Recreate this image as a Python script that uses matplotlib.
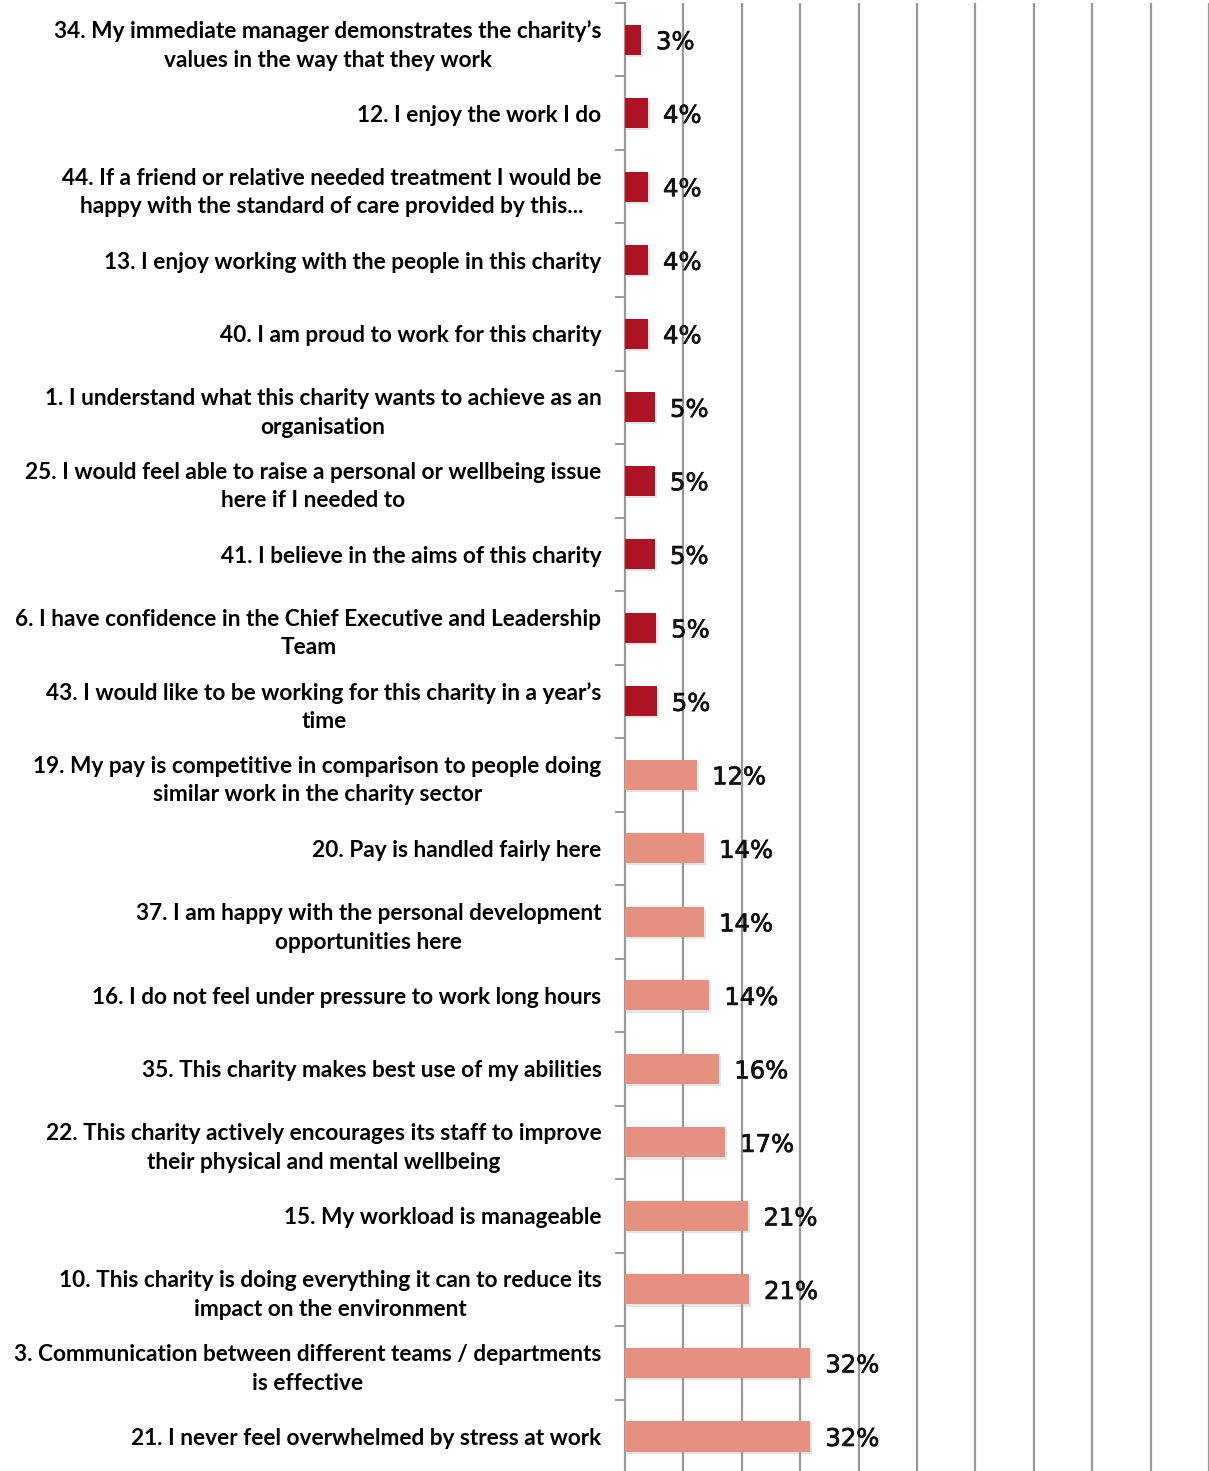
import matplotlib
matplotlib.use("Agg")
import matplotlib.pyplot as plt
import matplotlib.patheffects as pe
import numpy as np

# survey statements, top to bottom
questions = [
    "34. My immediate manager demonstrates the charity\u2019s\nvalues in the way that they work",
    "12. I enjoy the work I do",
    "44. If a friend or relative needed treatment I would be\nhappy with the standard of care provided by this...",
    "13. I enjoy working with the people in this charity",
    "40. I am proud to work for this charity",
    "1. I understand what this charity wants to achieve as an\norganisation",
    "25. I would feel able to raise a personal or wellbeing issue\nhere if I needed to",
    "41. I believe in the aims of this charity",
    "6. I have confidence in the Chief Executive and Leadership\nTeam",
    "43. I would like to be working for this charity in a year\u2019s\ntime",
    "19. My pay is competitive in comparison to people doing\nsimilar work in the charity sector",
    "20. Pay is handled fairly here",
    "37. I am happy with the personal development\nopportunities here",
    "16. I do not feel under pressure to work long hours",
    "35. This charity makes best use of my abilities",
    "22. This charity actively encourages its staff to improve\ntheir physical and mental wellbeing",
    "15. My workload is manageable",
    "10. This charity is doing everything it can to reduce its\nimpact on the environment",
    "3. Communication between different teams / departments\nis effective",
    "21. I never feel overwhelmed by stress at work",
]

# percent disagreeing
pct = [2.7, 3.9, 3.9, 3.9, 3.9, 5.1, 5.1, 5.1, 5.3, 5.4,
       12.3, 13.5, 13.5, 14.4, 16.1, 17.1, 21.1, 21.2, 31.7, 31.7]

# first ten are the low-disagreement group
group = ["low"] * 10 + ["high"] * 10
palette = {"low": "#AD1423", "high": "#E69080"}

fig = plt.figure(figsize=(12.09, 14.71), dpi=100)
ax = fig.add_axes([0.517, -0.0015, 0.483, 0.9995])

y = np.arange(len(questions))
bars = ax.barh(y, pct, height=0.41, color=[palette[g] for g in group], zorder=3)
for b in bars:
    b.set_path_effects([pe.SimplePatchShadow(offset=(1.5, -1.5), shadow_rgbFace="#999999", alpha=0.25),
                        pe.Normal()])

for yi, v in zip(y, pct):
    t = ax.text(v + 2.6, yi, f"{v:.0f}%", va="center_baseline", ha="left",
                fontsize=17.5, family="Liberation Sans Narrow",
                color="#111111", zorder=4)
    t.set_path_effects([pe.withStroke(linewidth=0.5, foreground="#111111")])

ax.set_xlim(0, 100)
ax.set_ylim(len(questions) - 0.5, -0.5)
ax.set_xticks(np.arange(10, 101, 10))
ax.xaxis.grid(True, color="#999999", linewidth=1.6, zorder=0)
ax.tick_params(axis="x", length=0, labelbottom=False)

ax.set_yticks(y)
ax.set_yticklabels(questions, fontsize=16.3, family="Lato", fontweight="bold",
                   ha="right", multialignment="center", linespacing=1.45)
ax.set_yticks(np.arange(-0.5, len(questions), 1), minor=True)
ax.tick_params(axis="y", which="major", length=0, pad=17)
ax.tick_params(axis="y", which="minor", length=7, width=1.4, color="#999999")

for s in ["top", "right", "bottom"]:
    ax.spines[s].set_visible(False)
ax.spines["left"].set_color("#999999")
ax.spines["left"].set_linewidth(1.6)

fig.savefig("out.png", dpi=100)
